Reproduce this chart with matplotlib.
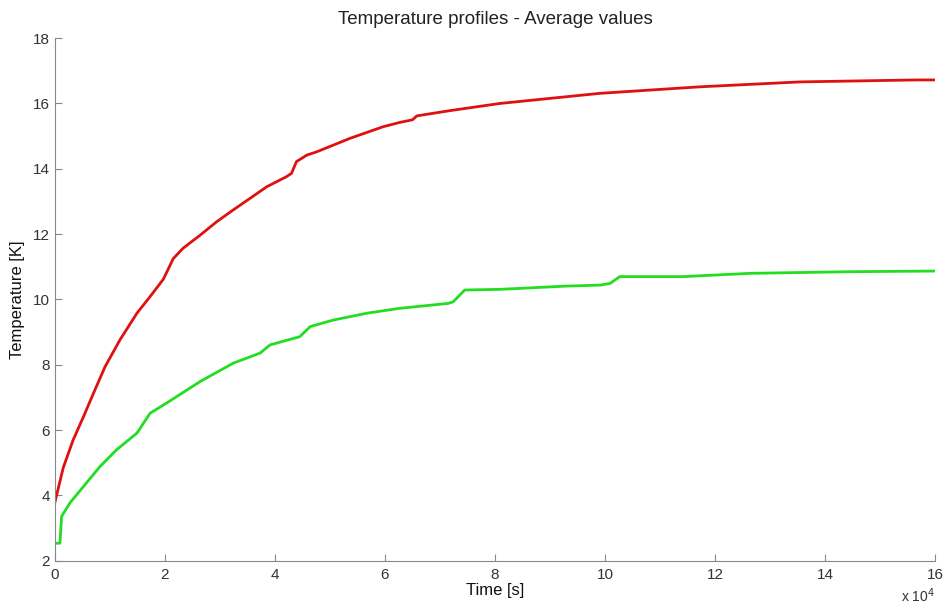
import numpy as np
import matplotlib
matplotlib.use("Agg")
import matplotlib.pyplot as plt
from matplotlib.ticker import FuncFormatter

plt.rcParams['font.family'] = ['Liberation Sans', 'DejaVu Sans']

# time in units of 1e4 s, temperature in K
t_red = [0.0, 0.15, 0.33, 0.52, 0.70, 0.91, 1.18, 1.49, 1.73, 1.97, 2.15, 2.33, 2.64,
         2.94, 3.24, 3.55, 3.85, 4.21, 4.30, 4.39, 4.58, 4.76, 5.36, 5.97, 6.27, 6.50, 6.58,
         7.18, 8.09, 9.91, 11.73, 13.55, 15.67, 16.0]
T_red = [3.8, 4.85, 5.70, 6.42, 7.13, 7.94, 8.76, 9.58, 10.09, 10.62, 11.25, 11.57, 11.97,
         12.38, 12.74, 13.10, 13.45, 13.76, 13.86, 14.22, 14.42, 14.52, 14.93, 15.29, 15.42, 15.50, 15.62,
         15.78, 16.0, 16.31, 16.51, 16.66, 16.72, 16.72]

t_green = [0.0, 0.09, 0.12, 0.27, 0.52, 0.82, 1.12, 1.49, 1.73, 2.03, 2.64, 3.24, 3.73,
           3.91, 4.45, 4.64, 5.06, 5.67, 6.27, 7.15, 7.24, 7.45, 8.09, 9.30, 9.91,
           10.09, 10.27, 11.42, 12.64, 14.45, 16.0]
T_green = [2.54, 2.54, 3.36, 3.77, 4.28, 4.89, 5.40, 5.91, 6.52, 6.83, 7.49, 8.05, 8.36,
           8.61, 8.86, 9.17, 9.37, 9.58, 9.73, 9.88, 9.93, 10.29, 10.31, 10.41, 10.44,
           10.49, 10.70, 10.70, 10.80, 10.85, 10.87]

fig = plt.figure(figsize=(9.48, 6.05), dpi=100)
ax = fig.add_axes([0.058, 0.073, 0.9283, 0.864])

ax.plot(np.array(t_red) * 1e4, T_red, color='#e01010', lw=2)
ax.plot(np.array(t_green) * 1e4, T_green, color='#22dd22', lw=2)

ax.set_xlim(0, 16e4)
ax.set_ylim(2, 18)
ax.set_xticks(np.arange(0, 16.1, 2) * 1e4)
ax.set_yticks(np.arange(2, 18.1, 2))
ax.xaxis.set_major_formatter(FuncFormatter(lambda v, p: '%d' % round(v / 1e4)))

for s in ['top', 'right']:
    ax.spines[s].set_visible(False)
for s in ['left', 'bottom']:
    ax.spines[s].set_color('#888888')
ax.tick_params(direction='in', length=5, color='#888888', labelsize=11, labelcolor='#333333')
ax.tick_params(axis='x', pad=5)

ax.set_title('Temperature profiles - Average values', fontsize=13.5, color='#222222', pad=10)
ax.set_xlabel('Time [s]', fontsize=12, color='#111111', labelpad=1)
ax.set_ylabel('Temperature [K]', fontsize=12, color='#111111', labelpad=6)
ax.text(1.0, -0.048, r'x 10$^4$', transform=ax.transAxes, ha='right', va='top',
        fontsize=10, color='#333333')

fig.savefig('out.png', dpi=100)
